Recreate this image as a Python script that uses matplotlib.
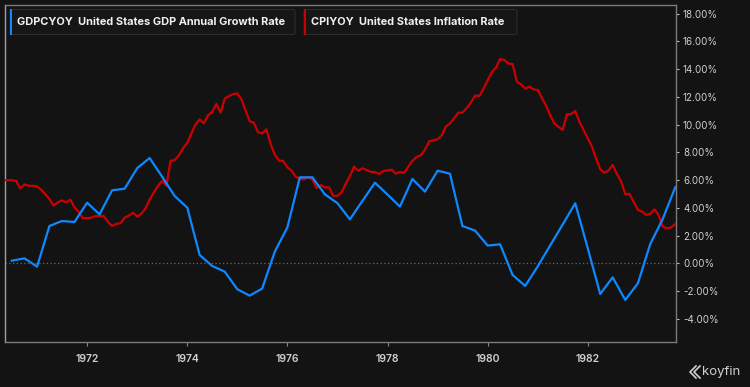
import matplotlib
matplotlib.use("Agg")
import matplotlib.pyplot as plt
import matplotlib.dates as mdates
from matplotlib.patches import FancyBboxPatch, Rectangle
from matplotlib.lines import Line2D
import pandas as pd
import datetime as dt

# ---------------- data ----------------
gdp_start = "1970-07-01"
gdp_values = [
    0.20, 0.37, -0.23, 2.70, 3.06, 2.99, 4.38, 3.54, 5.27, 5.39,
    6.88, 7.60, 6.26, 4.86, 4.02, 0.61, -0.18, -0.59, -1.86, -2.32,
    -1.81, 0.85, 2.60, 6.21, 6.21, 4.98, 4.34, 3.18, 4.50, 5.82,
    4.96, 4.10, 6.09, 5.18, 6.69, 6.47, 2.70, 2.37, 1.29, 1.38,
    -0.83, -1.62, -0.20, 1.30, 2.80, 4.34, 1.07, -2.20, -1.00, -2.63,
    -1.43, 1.40, 3.20, 5.50,
]
cpi_start = "1970-05-01"
cpi_values = [
    # 1970 May-Dec
    6.00, 6.00, 6.00, 5.95, 5.40, 5.70, 5.60, 5.60,
    # 1971
    5.55, 5.30, 5.00, 4.65, 4.17, 4.40, 4.55, 4.40, 4.60, 4.05, 3.70, 3.26,
    # 1972
    3.27, 3.30, 3.42, 3.42, 3.42, 3.00, 2.70, 2.85, 2.90, 3.30, 3.45, 3.66,
    # 1973
    3.38, 3.60, 3.95, 4.60, 5.10, 5.60, 5.95, 5.60, 7.40, 7.45, 7.80, 8.30,
    # 1974
    8.70, 9.40, 10.00, 10.39, 10.10, 10.68, 10.92, 11.50, 10.87, 11.88, 12.07, 12.20,
    # 1975
    12.26, 11.80, 11.06, 10.25, 10.15, 9.45, 9.38, 9.67, 8.60, 7.85, 7.41, 7.39,
    # 1976
    6.93, 6.69, 6.26, 6.09, 6.07, 6.20, 6.05, 5.45, 5.65, 5.49, 5.49, 4.86,
    # 1977
    4.88, 5.15, 5.75, 6.30, 6.98, 6.69, 6.86, 6.74, 6.60, 6.59, 6.45, 6.67,
    # 1978
    6.70, 6.76, 6.47, 6.59, 6.52, 6.98, 7.39, 7.68, 7.80, 8.20, 8.80, 8.88,
    # 1979
    8.95, 9.25, 9.85, 10.10, 10.45, 10.87, 10.87, 11.20, 11.60, 12.10, 12.07, 12.58,
    # 1980
    13.20, 13.80, 14.10, 14.74, 14.67, 14.40, 14.38, 13.10, 12.91, 12.60, 12.74, 12.55,
    # 1981
    12.50, 11.90, 11.40, 10.70, 10.10, 9.85, 9.62, 10.75, 10.77, 10.99, 10.20, 9.62,
    # 1982
    9.00, 8.40, 7.60, 6.80, 6.54, 6.70, 7.10, 6.45, 5.90, 5.00, 5.01, 4.45,
    # 1983 Jan-Oct
    3.86, 3.74, 3.50, 3.57, 3.90, 3.50, 2.65, 2.53, 2.60, 2.85,
]
gdp_dates = pd.date_range(gdp_start, periods=len(gdp_values), freq="QS")
cpi_dates = pd.date_range(cpi_start, periods=len(cpi_values), freq="MS")

y_ticks = [18, 16, 14, 12, 10, 8, 6, 4, 2, 0, -2, -4]
x_tick_years = [1972, 1974, 1976, 1978, 1980, 1982]
legend_items = [
    ("GDPCYOY", "United States GDP Annual Growth Rate", "#0f88ff"),
    ("CPIYOY", "United States Inflation Rate", "#cc0000"),
]

# ---------------- style ----------------
BG = "#131313"
GDP_COLOR = "#0f88ff"
CPI_COLOR = "#cc0000"
TXT = "#d0d0d0"
FONT = ["Inter", "DejaVu Sans"]

fig = plt.figure(figsize=(7.5, 3.87), dpi=100, facecolor=BG)
ax = fig.add_axes([5 / 750, 1 - 342 / 387, (676 - 5) / 750, (342 - 5) / 387])
ax.set_facecolor(BG)

ax.plot(cpi_dates, cpi_values, color=CPI_COLOR, lw=1.6, solid_joinstyle="round", zorder=3)
ax.plot(gdp_dates, gdp_values, color=GDP_COLOR, lw=1.6, solid_joinstyle="round", zorder=4)
ax.axhline(0, color="#6a6a6a", lw=0.9, ls=(0, (1, 2)), zorder=2)

ax.set_xlim(dt.datetime(1970, 5, 12), dt.datetime(1983, 10, 6))
ax.set_ylim(-5.66, 18.63)

ax.yaxis.tick_right()
ax.set_yticks(y_ticks)
ax.set_yticklabels([f"{v:.2f}%" for v in y_ticks])
ax.set_xticks([dt.datetime(y, 1, 1) for y in x_tick_years])
ax.set_xticklabels([str(y) for y in x_tick_years])

ax.tick_params(axis="y", colors="#bbbbbb", labelcolor=TXT, length=2, width=0.8,
               pad=3, labelsize=7)
ax.tick_params(axis="x", colors="#888888", labelcolor=TXT, length=3, width=0.8,
               pad=6, labelsize=7.5)
for lab in ax.get_yticklabels() + ax.get_xticklabels():
    lab.set_family(FONT)
for lab in ax.get_xticklabels():
    lab.set_fontweight("semibold")

for side in ["left", "right", "top", "bottom"]:
    ax.spines[side].set_color("#7a7a7a")
    ax.spines[side].set_linewidth(1.0)
ax.spines["left"].set_color("#a0a0a0")

# ---------------- legend boxes ----------------
boxes = [(10, 295), (304, 517)]
for (label_code, label_name, col), (x0, x1) in zip(legend_items, boxes):
    y0, y1 = 9.5, 34.5
    fx0, fx1 = x0 / 750, x1 / 750
    fy0, fy1 = 1 - y1 / 387, 1 - y0 / 387
    fig.patches.append(FancyBboxPatch((fx0, fy0), fx1 - fx0, fy1 - fy0,
                                      boxstyle="round,pad=0,rounding_size=0.003",
                                      transform=fig.transFigure, facecolor="#161616",
                                      edgecolor="#2c2c2c", lw=0.8, zorder=5))
    fig.patches.append(Rectangle((fx0, fy0), 2.2 / 750, fy1 - fy0,
                                 transform=fig.transFigure, facecolor=col,
                                 edgecolor="none", zorder=6))
    fig.text(fx0 + 7 / 750, (fy0 + fy1) / 2, f"{label_code}  {label_name}",
             color="#f0f0f0", fontsize=7.9, fontweight="bold", family=FONT,
             va="center", ha="left", zorder=7)

# ---------------- koyfin mark ----------------
lx, ly = 690 / 750, 1 - 372 / 387
for dx in (0, 4):
    fig.lines.append(Line2D([lx + (dx + 6) / 750, lx + dx / 750, lx + (dx + 6) / 750],
                            [ly + 6 / 387, ly, ly - 6 / 387],
                            transform=fig.transFigure, color="#d0d0d0", lw=1.2))
fig.text(lx + 12 / 750, ly, "koyfin", color="#d0d0d0", fontsize=9.5,
         family=FONT, va="center", ha="left")

fig.savefig("out.png", dpi=100, facecolor=BG)
